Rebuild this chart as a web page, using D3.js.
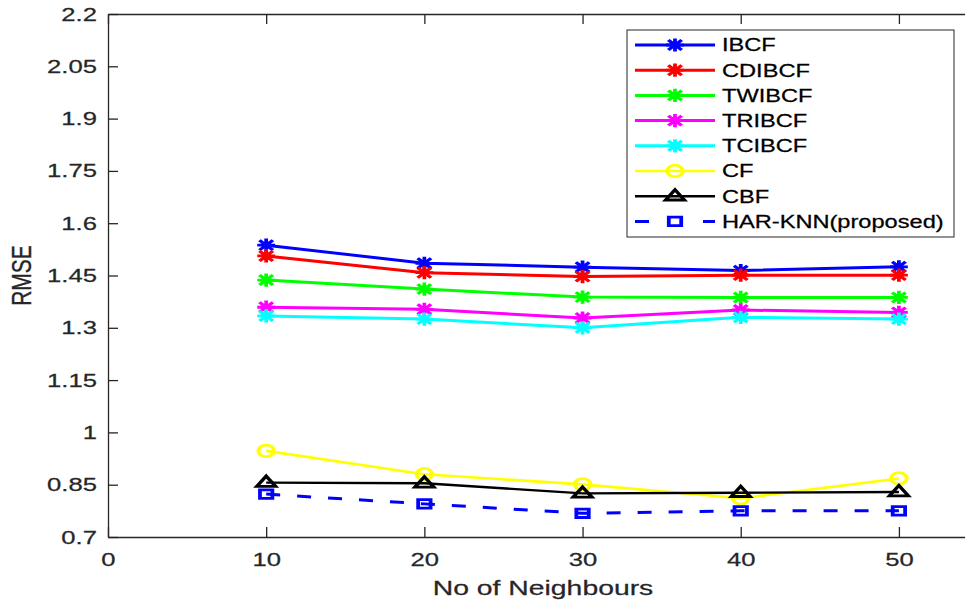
<!DOCTYPE html>
<html>
<head>
<meta charset="utf-8">
<script src="https://cdn.jsdelivr.net/npm/d3@7"></script>
<style>
  body { margin: 0; background: #fff; }
  svg { display: block; }
</style>
</head>
<body>
<div id="chart"></div>
<script>
// data
const neighbours = [10, 20, 30, 40, 50];
const seriesNames = ["IBCF", "CDIBCF", "TWIBCF", "TRIBCF", "TCIBCF", "CF", "CBF", "HAR-KNN(proposed)"];
const ibcf   = [1.537, 1.485, 1.474, 1.464, 1.475];
const cdibcf = [1.506, 1.458, 1.447, 1.451, 1.451];
const twibcf = [1.437, 1.411, 1.388, 1.387, 1.387];
const tribcf = [1.359, 1.353, 1.328, 1.351, 1.344];
const tcibcf = [1.334, 1.325, 1.300, 1.330, 1.325];
const cf     = [0.947, 0.880, 0.851, 0.811, 0.868];
const cbf    = [0.856, 0.854, 0.825, 0.827, 0.829];
const harknn = [0.823, 0.795, 0.768, 0.775, 0.775];
const xTicks = [0, 10, 20, 30, 40, 50];
const yTicks = [0.7, 0.85, 1, 1.15, 1.3, 1.45, 1.6, 1.75, 1.9, 2.05, 2.2];
const yTickLabels = ["0.7", "0.85", "1", "1.15", "1.3", "1.45", "1.6", "1.75", "1.9", "2.05", "2.2"];

const width = 965;
const height = 604;
const SX = 1.35; // the picture is stretched sideways, text and markers follow
const axisColor = "#262626";
const font = "'Liberation Sans', Arial, Helvetica, sans-serif";

const svg = d3.select("#chart").append("svg")
  .attr("width", width).attr("height", height);

const x = d3.scaleLinear().domain([0, 55]).range([108, 978]);
const y = d3.scaleLinear().domain([0.7, 2.2]).range([537, 14]);

// asterisk like matlab '*'
const asterisk = {
  draw(ctx, size) {
    const r = Math.sqrt(size) / 2;
    const d = r * 0.75;
    ctx.moveTo(-r, 0); ctx.lineTo(r, 0);
    ctx.moveTo(0, -r); ctx.lineTo(0, r);
    ctx.moveTo(-d, -d); ctx.lineTo(d, d);
    ctx.moveTo(-d, d); ctx.lineTo(d, -d);
  }
};
const circle = {
  draw(ctx) { ctx.moveTo(5.8, 0); ctx.arc(0, 0, 5.8, 0, 2 * Math.PI); }
};
const triangle = {
  draw(ctx) { ctx.moveTo(0, -6.5); ctx.lineTo(7, 3.8); ctx.lineTo(-7, 3.8); ctx.closePath(); }
};
const square = {
  draw(ctx) { ctx.rect(-4.6, -4.2, 9.2, 8.4); }
};

const series = [
  { name: seriesNames[0], values: ibcf,   color: "#0000ff", marker: asterisk, lw: 3 },
  { name: seriesNames[1], values: cdibcf, color: "#ff0000", marker: asterisk, lw: 3 },
  { name: seriesNames[2], values: twibcf, color: "#00ff00", marker: asterisk, lw: 3 },
  { name: seriesNames[3], values: tribcf, color: "#ff00ff", marker: asterisk, lw: 3 },
  { name: seriesNames[4], values: tcibcf, color: "#00ffff", marker: asterisk, lw: 3 },
  { name: seriesNames[5], values: cf,     color: "#ffff00", marker: circle,   lw: 2.6 },
  { name: seriesNames[6], values: cbf,    color: "#000000", marker: triangle, lw: 2.4 },
  { name: seriesNames[7], values: harknn, color: "#0000ff", marker: square,   lw: 3, dash: "14,17" }
];

// axes box
function styleAxis(g) {
  g.select(".domain").attr("stroke", axisColor).attr("stroke-width", 1.3);
  g.selectAll(".tick line").attr("stroke", axisColor).attr("stroke-width", 1.3);
  g.selectAll("text").attr("font-family", font).attr("font-size", 19).attr("fill", axisColor)
    .attr("stroke", axisColor).attr("stroke-width", 0.25);
}

svg.append("g")
  .attr("transform", `translate(0,${y(0.7)})`)
  .call(d3.axisBottom(x).tickValues(xTicks).tickSizeInner(-10).tickSizeOuter(0).tickPadding(16))
  .call(styleAxis)
  .call(g => g.selectAll("text").attr("transform", `scale(${SX},1)`));

svg.append("g")
  .attr("transform", `translate(0,${y(2.2)})`)
  .call(d3.axisTop(x).tickValues(xTicks).tickSizeInner(-10).tickSizeOuter(0).tickFormat(""))
  .call(styleAxis);

svg.append("g")
  .attr("transform", `translate(${x(0)},0)`)
  .call(d3.axisLeft(y).tickValues(yTicks).tickSizeInner(-10).tickSizeOuter(0)
    .tickFormat((d, i) => yTickLabels[i]))
  .call(styleAxis)
  .call(g => g.selectAll("text").attr("x", -11 / SX).attr("transform", `scale(${SX},1)`));

svg.append("g")
  .attr("transform", `translate(${x(55)},0)`)
  .call(d3.axisRight(y).tickValues(yTicks).tickSizeInner(-10).tickSizeOuter(0).tickFormat(""))
  .call(styleAxis);

// axis titles
svg.append("text")
  .attr("transform", `translate(${(x(0) + x(55)) / 2},595) scale(${SX},1)`)
  .attr("text-anchor", "middle")
  .attr("font-family", font).attr("font-size", 21).attr("fill", axisColor)
  .attr("stroke", axisColor).attr("stroke-width", 0.25)
  .text("No of Neighbours");

svg.append("text")
  .attr("transform", `translate(31,${(y(0.7) + y(2.2)) / 2}) scale(${SX},1) rotate(-90)`)
  .attr("text-anchor", "middle")
  .attr("font-family", font).attr("font-size", 21).attr("fill", axisColor)
  .attr("stroke", axisColor).attr("stroke-width", 0.25)
  .text("RMSE");

// lines and markers
const line = d3.line()
  .x((d, i) => x(neighbours[i]))
  .y(d => y(d));

series.forEach(s => {
  svg.append("path")
    .attr("d", line(s.values))
    .attr("fill", "none")
    .attr("stroke", s.color)
    .attr("stroke-width", s.lw)
    .attr("stroke-dasharray", s.dash || null);

  svg.append("g").selectAll("path")
    .data(s.values)
    .join("path")
    .attr("d", d3.symbol().type(s.marker).size(175))
    .attr("transform", (d, i) => `translate(${x(neighbours[i])},${y(d)}) scale(${SX},1)`)
    .attr("fill", "none")
    .attr("stroke", s.color)
    .attr("stroke-width", 2.8);
});

// legend
const legend = svg.append("g");
legend.append("rect")
  .attr("x", 627).attr("y", 30).attr("width", 327).attr("height", 207)
  .attr("fill", "#fff").attr("stroke", axisColor).attr("stroke-width", 1);

const item = legend.selectAll(".item")
  .data(series)
  .join("g")
  .attr("class", "item")
  .attr("transform", (d, i) => `translate(0,${45 + i * 25.2})`);

item.append("line")
  .attr("x1", 635).attr("x2", 715)
  .attr("stroke", d => d.color)
  .attr("stroke-width", d => d.lw)
  .attr("stroke-dasharray", d => d.dash ? "14,54,12" : null);

item.append("path")
  .attr("d", d => d3.symbol().type(d.marker).size(175)())
  .attr("transform", `translate(675,0) scale(${SX},1)`)
  .attr("fill", "none")
  .attr("stroke", d => d.color)
  .attr("stroke-width", 2.8);

item.append("text")
  .attr("transform", `translate(722,0) scale(${SX},1)`)
  .attr("dy", "0.36em")
  .attr("font-family", font).attr("font-size", 17.5).attr("fill", "#000")
  .attr("stroke", "#000").attr("stroke-width", 0.25)
  .text(d => d.name);
</script>
</body>
</html>
